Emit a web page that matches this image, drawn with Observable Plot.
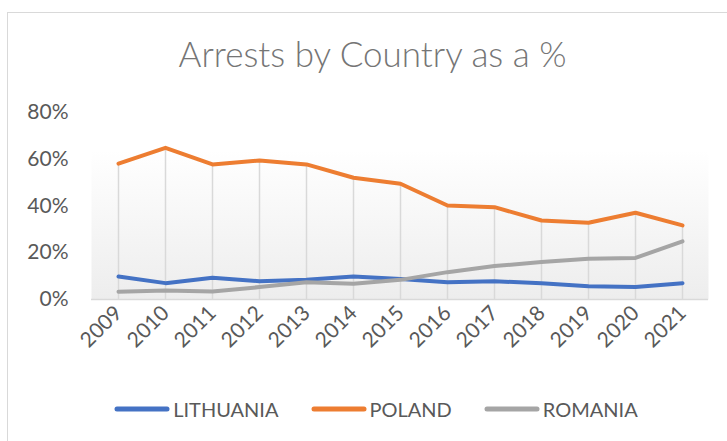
<!DOCTYPE html>
<html>
<head>
<meta charset="utf-8">
<script src="https://cdn.jsdelivr.net/npm/d3@7"></script>
<script src="https://cdn.jsdelivr.net/npm/@observablehq/plot@0.6"></script>
<style>
  html, body { margin: 0; padding: 0; background: #fff; }
  body { width: 727px; height: 441px; overflow: hidden; position: relative; font-family: Lato, "Open Sans", sans-serif; }
  #frame { position: absolute; left: 7px; top: 12px; width: 760px; height: 460px; border: 1px solid #d9d9d9; box-sizing: border-box; }
  #title { position: absolute; left: 0; width: 745px; top: 32px; text-align: center; font-size: 35px; font-weight: 300; color: #757575; white-space: nowrap; }
  #chart { position: absolute; left: 0; top: 0; }
  #legend { position: absolute; left: 0; width: 752px; top: 397px; display: flex; justify-content: center; gap: 32px; font-size: 20px; color: #595959; }
  .item { display: flex; align-items: center; gap: 3px; }
</style>
</head>
<body>
<div id="frame"></div>
<div id="title">Arrests by Country as a %</div>
<div id="chart"></div>
<div id="legend"></div>
<script>
const years = ["2009","2010","2011","2012","2013","2014","2015","2016","2017","2018","2019","2020","2021"];
const lithuania = [9.8, 7.0, 9.3, 7.8, 8.4, 9.8, 8.8, 7.4, 7.8, 7.0, 5.7, 5.3, 7.0];
const poland    = [58.1, 64.9, 57.8, 59.5, 57.8, 52.1, 49.5, 40.2, 39.5, 33.8, 32.8, 37.1, 31.7];
const romania   = [3.3, 3.8, 3.4, 5.3, 7.4, 6.7, 8.4, 11.7, 14.3, 16.0, 17.4, 17.8, 24.9];
const seriesNames = ["LITHUANIA", "POLAND", "ROMANIA"];
const seriesColors = ["#4472C4", "#ED7D31", "#A5A5A5"];
const yTicks = [0, 0.2, 0.4, 0.6, 0.8];

const seriesValues = [lithuania, poland, romania];
const rows = [];
seriesNames.forEach((name, i) => {
  years.forEach((yr, j) => rows.push({series: name, year: yr, value: seriesValues[i][j] / 100}));
});
const drops = years.map((yr, j) => ({year: yr, top: Math.max(lithuania[j], poland[j], romania[j]) / 100}));

const plot = Plot.plot({
  width: 727,
  height: 441,
  marginLeft: 91,
  marginRight: 19,
  marginTop: 112,
  marginBottom: 142,
  style: { fontFamily: "Lato, 'Open Sans', sans-serif", fontSize: "21px", color: "#595959", background: "transparent" },
  x: { type: "point", domain: years, padding: 0.5, label: null },
  y: { domain: [0, 0.8], ticks: yTicks, tickFormat: d3.format(".0%"), label: null },
  color: { domain: seriesNames, range: seriesColors },
  marks: [
    Plot.frame({ fill: "url(#plotGrad)", stroke: null }),
    Plot.ruleX(drops, { x: "year", y1: 0, y2: "top", stroke: "#d9d9d9", strokeWidth: 1.5 }),
    Plot.ruleY([0], { stroke: "#d9d9d9", strokeWidth: 1.5 }),
    Plot.axisY({ ticks: yTicks, tickFormat: d3.format(".0%"), tickSize: 0, tickPadding: 23, fontSize: 21, label: null }),
    Plot.axisX({ tickSize: 0, tickRotate: -45, tickPadding: 10, fontSize: 21, label: null }),
    Plot.line(rows, { x: "year", y: "value", z: "series", stroke: "series", strokeWidth: 4, strokeLinejoin: "round", strokeLinecap: "round" })
  ]
});

const defs = d3.select(plot).insert("defs", ":first-child");
const grad = defs.append("linearGradient").attr("id", "plotGrad").attr("x1", 0).attr("y1", 0).attr("x2", 0).attr("y2", 1);
grad.append("stop").attr("offset", "0%").attr("stop-color", "#ffffff");
grad.append("stop").attr("offset", "20%").attr("stop-color", "#ffffff");
grad.append("stop").attr("offset", "100%").attr("stop-color", "#ededed");

document.getElementById("chart").appendChild(plot);

const legend = document.getElementById("legend");
seriesNames.forEach((name, i) => {
  const item = document.createElement("div");
  item.className = "item";
  item.innerHTML = `<svg width="56" height="8"><line x1="3" y1="4" x2="53" y2="4" stroke="${seriesColors[i]}" stroke-width="5" stroke-linecap="round"/></svg><span>${name}</span>`;
  legend.appendChild(item);
});
</script>
</body>
</html>
